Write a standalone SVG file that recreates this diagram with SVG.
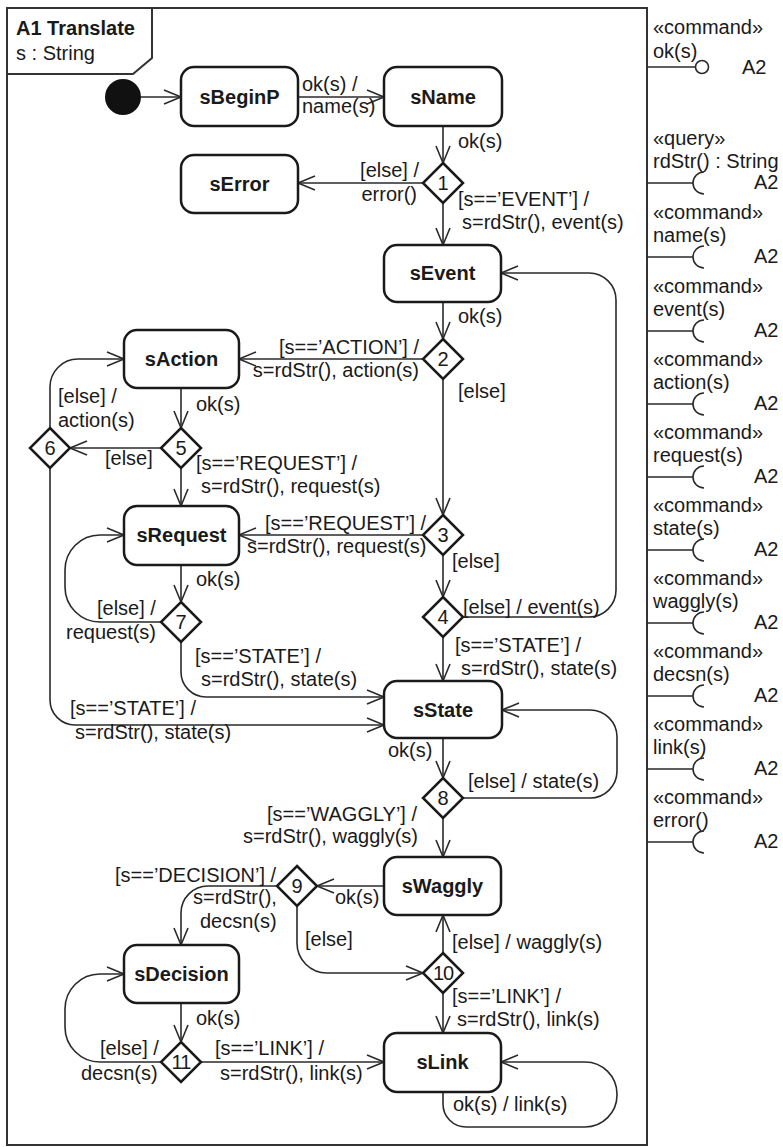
<svg xmlns="http://www.w3.org/2000/svg" width="783" height="1147" viewBox="0 0 783 1147">
<style>
.frame{fill:none;stroke:#333;stroke-width:2}
.st{fill:#fff;stroke:#1a1a1a;stroke-width:2.5}
.dm{fill:#fff;stroke:#1a1a1a;stroke-width:2.5}
.tr{fill:none;stroke:#2a2a2a;stroke-width:1.6;marker-end:url(#ar)}
.ln{fill:none;stroke:#2a2a2a;stroke-width:1.6}
text{font-family:"Liberation Sans",Arial,sans-serif;font-size:20px;fill:#1a1a1a}
.b{font-weight:bold}
.c{text-anchor:middle}
.e{text-anchor:end}
</style>
<defs>
<marker id="ar" markerUnits="userSpaceOnUse" markerWidth="22" markerHeight="18" refX="18" refY="8" orient="auto">
<path d="M1,1 L18,8 L1,15" fill="none" stroke="#2a2a2a" stroke-width="1.6"/>
</marker>
</defs>
<rect width="783" height="1147" fill="#fff"/>

<g id="frame">
<rect class="frame" x="7" y="8" width="640" height="1137"/>
<path class="frame" d="M7,74 L133,74 L152,58 L152,8"/>
<text class="b" x="16" y="35">A1 Translate</text>
<text x="16" y="60">s : String</text>
</g>

<g id="interfaces">
<g id="if-ok"><text x="653" y="34">«command»</text><text x="653" y="58">ok(s)</text><path class="ln" d="M647,67 L696,67"/><circle cx="702" cy="67" r="6.5" fill="#fff" stroke="#2a2a2a" stroke-width="1.6"/><text x="742" y="74">A2</text></g>
<g id="if-rdStr"><text x="653" y="145">«query»</text><text x="653" y="168">rdStr() : String</text><path class="ln" d="M647,183 L693,183 M704,172 A11,11 0 0 0 704,194"/><text x="754" y="189">A2</text></g>
<g id="if-name"><text x="653" y="219">«command»</text><text x="653" y="242">name(s)</text><path class="ln" d="M647,257 L693,257 M704,246 A11,11 0 0 0 704,268"/><text x="754" y="263">A2</text></g>
<g id="if-event"><text x="653" y="293">«command»</text><text x="653" y="316">event(s)</text><path class="ln" d="M647,331 L693,331 M704,320 A11,11 0 0 0 704,342"/><text x="754" y="337">A2</text></g>
<g id="if-action"><text x="653" y="366">«command»</text><text x="653" y="389">action(s)</text><path class="ln" d="M647,404 L693,404 M704,393 A11,11 0 0 0 704,415"/><text x="754" y="410">A2</text></g>
<g id="if-request"><text x="653" y="439">«command»</text><text x="653" y="462">request(s)</text><path class="ln" d="M647,477 L693,477 M704,466 A11,11 0 0 0 704,488"/><text x="754" y="483">A2</text></g>
<g id="if-state"><text x="653" y="512">«command»</text><text x="653" y="535">state(s)</text><path class="ln" d="M647,550 L693,550 M704,539 A11,11 0 0 0 704,561"/><text x="754" y="556">A2</text></g>
<g id="if-waggly"><text x="653" y="585">«command»</text><text x="653" y="608">waggly(s)</text><path class="ln" d="M647,623 L693,623 M704,612 A11,11 0 0 0 704,634"/><text x="754" y="629">A2</text></g>
<g id="if-decsn"><text x="653" y="658">«command»</text><text x="653" y="681">decsn(s)</text><path class="ln" d="M647,696 L693,696 M704,685 A11,11 0 0 0 704,707"/><text x="754" y="702">A2</text></g>
<g id="if-link"><text x="653" y="731">«command»</text><text x="653" y="754">link(s)</text><path class="ln" d="M647,769 L693,769 M704,758 A11,11 0 0 0 704,780"/><text x="754" y="775">A2</text></g>
<g id="if-error"><text x="653" y="804">«command»</text><text x="653" y="827">error()</text><path class="ln" d="M647,842 L693,842 M704,831 A11,11 0 0 0 704,853"/><text x="754" y="848">A2</text></g>
</g>

<g id="connectors">
<path class="tr" d="M141,97 L181,97"/>
<g><path class="tr" d="M298,97 L384,97"/><text x="302" y="91">ok(s) /</text><text x="302" y="113">name(s)</text></g>
<g><path class="tr" d="M443,126 L443,163"/><text x="458" y="148">ok(s)</text></g>
<g><path class="tr" d="M423,183 L298,183"/><text class="e" x="419" y="177">[else] /</text><text class="e" x="417" y="201">error()</text></g>
<g><path class="tr" d="M443,203 L443,245"/><text x="458" y="206">[s==’EVENT’] /</text><text x="462" y="229">s=rdStr(), event(s)</text></g>
<g><path class="tr" d="M443,302 L443,339"/><text x="458" y="323">ok(s)</text></g>
<g><path class="tr" d="M423,359 L239,359"/><text class="e" x="419" y="354">[s==’ACTION’] /</text><text class="e" x="419" y="377">s=rdStr(), action(s)</text></g>
<g><path class="tr" d="M443,379 L443,515"/><text x="458" y="398">[else]</text></g>
<g><path class="tr" d="M423,535 L239,535"/><text x="265" y="530">[s==’REQUEST’] /</text><text x="247" y="553">s=rdStr(), request(s)</text></g>
<g><path class="tr" d="M443,555 L443,597"/><text x="452" y="568">[else]</text></g>
<g><path class="tr" d="M463,617 L589,617 A27,27 0 0 0 616,590 L616,300 A27,27 0 0 0 589,273 L501,273"/><text x="463" y="614">[else] / event(s)</text></g>
<g><path class="tr" d="M443,637 L443,681"/><text x="455" y="652">[s==’STATE’] /</text><text x="461" y="675">s=rdStr(), state(s)</text></g>
<g><path class="tr" d="M181,388 L181,428"/><text x="196" y="411">ok(s)</text></g>
<g><path class="tr" d="M161,448 L70,448"/><text x="105" y="465">[else]</text></g>
<g><path class="tr" d="M50,428 L50,387 A28,28 0 0 1 78,359 L124,359"/><text x="58" y="403">[else] /</text><text x="58" y="427">action(s)</text></g>
<g><path class="tr" d="M50,468 L50,700 A25,25 0 0 0 75,725 L384,725"/><text x="70" y="715">[s==’STATE’] /</text><text x="75" y="739">s=rdStr(), state(s)</text></g>
<g><path class="tr" d="M181,468 L181,506"/><text x="196" y="470">[s==’REQUEST’] /</text><text x="201" y="493">s=rdStr(), request(s)</text></g>
<g><path class="tr" d="M181,565 L181,602"/><text x="196" y="586">ok(s)</text></g>
<g><path class="tr" d="M161,622 L100,622 A35,35 0 0 1 65,587 L65,570 A35,35 0 0 1 100,535 L124,535"/><text x="97" y="615">[else] /</text><text x="66" y="639">request(s)</text></g>
<g><path class="tr" d="M181,642 L181,672 A25,25 0 0 0 206,697 L384,697"/><text x="195" y="663">[s==’STATE’] /</text><text x="201" y="686">s=rdStr(), state(s)</text></g>
<g><path class="tr" d="M443,738 L443,778"/><text x="388" y="757">ok(s)</text></g>
<g><path class="tr" d="M463,798 L590,798 A27,27 0 0 0 617,771 L617,737 A27,27 0 0 0 590,710 L502,710"/><text x="468" y="788">[else] / state(s)</text></g>
<g><path class="tr" d="M443,818 L443,857"/><text x="267" y="821">[s==’WAGGLY’] /</text><text x="243" y="843">s=rdStr(), waggly(s)</text></g>
<g><path class="tr" d="M384,886 L317,886"/><text x="335" y="904">ok(s)</text></g>
<g><path class="tr" d="M277,886 L208,886 A27,27 0 0 0 181,913 L181,945"/><text x="115" y="882">[s==’DECISION’] /</text><text x="193" y="904">s=rdStr(),</text><text x="200" y="928">decsn(s)</text></g>
<g><path class="tr" d="M297,906 L297,943 A30,30 0 0 0 327,973 L423,973"/><text x="305" y="946">[else]</text></g>
<g><path class="tr" d="M443,953 L443,915"/><text x="452" y="949">[else] / waggly(s)</text></g>
<g><path class="tr" d="M443,993 L443,1033"/><text x="452" y="1003">[s==’LINK’] /</text><text x="457" y="1026">s=rdStr(), link(s)</text></g>
<g><path class="tr" d="M181,1003 L181,1042"/><text x="196" y="1025">ok(s)</text></g>
<g><path class="tr" d="M161,1062 L100,1062 A35,35 0 0 1 65,1027 L65,1009 A35,35 0 0 1 100,974 L124,974"/><text x="100" y="1055">[else] /</text><text x="81" y="1080">decsn(s)</text></g>
<g><path class="tr" d="M201,1062 L384,1062"/><text x="215" y="1055">[s==’LINK’] /</text><text x="220" y="1080">s=rdStr(), link(s)</text></g>
<g><path class="tr" d="M443,1092 L443,1104 A23,23 0 0 0 466,1127 L585,1127 A32,32 0 0 0 617,1095 L617,1094 A32,32 0 0 0 585,1062 L501,1062"/><text x="453" y="1111">ok(s) / link(s)</text></g>
</g>

<g id="initial"><circle cx="123" cy="97" r="18" fill="#111"/></g>
<g id="sBeginP"><rect class="st" x="181" y="67" width="117" height="59" rx="13"/><text class="b c" x="239.5" y="104">sBeginP</text></g>
<g id="sName"><rect class="st" x="384" y="67" width="118" height="59" rx="13"/><text class="b c" x="443" y="104">sName</text></g>
<g id="sError"><rect class="st" x="181" y="155" width="117" height="58" rx="13"/><text class="b c" x="239.5" y="191">sError</text></g>
<g id="sEvent"><rect class="st" x="384" y="245" width="117" height="57" rx="13"/><text class="b c" x="442.5" y="280">sEvent</text></g>
<g id="sAction"><rect class="st" x="124" y="330" width="115" height="58" rx="13"/><text class="b c" x="181.5" y="366">sAction</text></g>
<g id="sRequest"><rect class="st" x="124" y="506" width="115" height="59" rx="13"/><text class="b c" x="181.5" y="542">sRequest</text></g>
<g id="sState"><rect class="st" x="384" y="681" width="118" height="57" rx="13"/><text class="b c" x="443" y="717">sState</text></g>
<g id="sWaggly"><rect class="st" x="384" y="857" width="117" height="58" rx="13"/><text class="b c" x="442.5" y="893">sWaggly</text></g>
<g id="sDecision"><rect class="st" x="124" y="945" width="115" height="58" rx="13"/><text class="b c" x="181.5" y="981">sDecision</text></g>
<g id="sLink"><rect class="st" x="384" y="1033" width="117" height="59" rx="13"/><text class="b c" x="442.5" y="1069">sLink</text></g>

<g id="d1"><polygon class="dm" points="443,163 463,183 443,203 423,183"/><text class="c" x="443" y="190">1</text></g>
<g id="d2"><polygon class="dm" points="443,339 463,359 443,379 423,359"/><text class="c" x="443" y="366">2</text></g>
<g id="d3"><polygon class="dm" points="443,515 463,535 443,555 423,535"/><text class="c" x="443" y="542">3</text></g>
<g id="d4"><polygon class="dm" points="443,597 463,617 443,637 423,617"/><text class="c" x="443" y="624">4</text></g>
<g id="d5"><polygon class="dm" points="181,428 201,448 181,468 161,448"/><text class="c" x="181" y="455">5</text></g>
<g id="d6"><polygon class="dm" points="50,428 70,448 50,468 30,448"/><text class="c" x="50" y="455">6</text></g>
<g id="d7"><polygon class="dm" points="181,602 201,622 181,642 161,622"/><text class="c" x="181" y="629">7</text></g>
<g id="d8"><polygon class="dm" points="443,778 463,798 443,818 423,798"/><text class="c" x="443" y="805">8</text></g>
<g id="d9"><polygon class="dm" points="297,866 317,886 297,906 277,886"/><text class="c" x="297" y="893">9</text></g>
<g id="d10"><polygon class="dm" points="443,953 463,973 443,993 423,973"/><text class="c" x="443" y="980" style="letter-spacing:-1px">10</text></g>
<g id="d11"><polygon class="dm" points="181,1042 201,1062 181,1082 161,1062"/><text class="c" x="181" y="1069" style="letter-spacing:-1px">11</text></g>
</svg>
